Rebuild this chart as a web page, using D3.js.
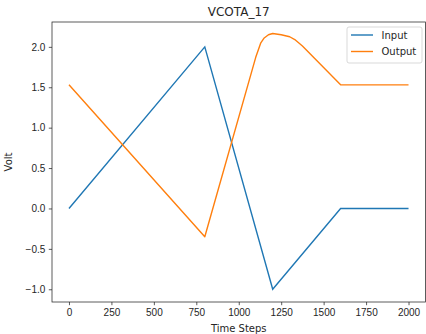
<!DOCTYPE html>
<html>
<head>
<meta charset="utf-8">
<script src="https://cdn.jsdelivr.net/npm/d3@7"></script>
<style>
  body { margin: 0; background: #fff; }
  svg { font-family: "DejaVu Sans", sans-serif; }
  .tick text { font-size: 10px; fill: #262626; }
</style>
</head>
<body>
<svg id="chart" width="426" height="334"></svg>
<script>
// input signal
var input_steps = [0, 800, 1200, 1600, 2000];
var input_volts = [0, 2.0, -1.0, 0, 0];
// output signal
var output_steps = [0, 800, 1100, 1130, 1150, 1175, 1200, 1250, 1300, 1330, 1375, 1600, 2000];
var output_volts = [1.53, -0.35, 1.87, 2.05, 2.11, 2.15, 2.165, 2.15, 2.125, 2.09, 2.01, 1.53, 1.53];
// ticks
var x_ticks = [0, 250, 500, 750, 1000, 1250, 1500, 1750, 2000];
var y_ticks = [-1.0, -0.5, 0.0, 0.5, 1.0, 1.5, 2.0];

// plot area edges
var plot_left = 52, plot_right = 425.5, plot_top = 22, plot_bottom = 302;
var svg = d3.select("#chart");

var x = d3.scaleLinear().domain([-100, 2100]).range([plot_left, plot_right]);
var y = d3.scaleLinear().domain([-1.1575, 2.3075]).range([plot_bottom, plot_top]);

// axes
var xAxis = svg.append("g")
    .attr("transform", "translate(0," + plot_bottom + ")")
    .call(d3.axisBottom(x).tickValues(x_ticks).tickSize(3.2).tickPadding(3.5).tickFormat(d3.format("d")));
var yAxis = svg.append("g")
    .attr("transform", "translate(" + plot_left + ",0)")
    .call(d3.axisLeft(y).tickValues(y_ticks).tickSize(3.2).tickPadding(3.5)
        .tickFormat(function(d) { return d3.format(".1f")(d).replace("-", "\u2212"); }));
[xAxis, yAxis].forEach(function(a) {
    a.select(".domain").remove();
    a.selectAll(".tick line").attr("stroke", "#262626").attr("stroke-width", 0.75);
});

// series lines
var line = d3.line().x(function(d) { return x(d[0]); }).y(function(d) { return y(d[1]); });
svg.append("path")
    .datum(d3.zip(input_steps, input_volts))
    .attr("d", line).attr("fill", "none")
    .attr("stroke", "#1f77b4").attr("stroke-width", 1.4);
svg.append("path")
    .datum(d3.zip(output_steps, output_volts))
    .attr("d", line).attr("fill", "none")
    .attr("stroke", "#ff7f0e").attr("stroke-width", 1.4).attr("stroke-linejoin", "round");

// frame
svg.append("rect")
    .attr("x", plot_left).attr("y", plot_top)
    .attr("width", plot_right - plot_left).attr("height", plot_bottom - plot_top)
    .attr("fill", "none").attr("stroke", "#262626").attr("stroke-width", 0.75);

// title and labels
svg.append("text").attr("x", (plot_left + plot_right) / 2).attr("y", 15.5)
    .attr("text-anchor", "middle").attr("font-size", 12).attr("fill", "#262626")
    .text("VCOTA_17");
svg.append("text").attr("x", (plot_left + plot_right) / 2).attr("y", 332)
    .attr("text-anchor", "middle").attr("font-size", 10).attr("fill", "#262626")
    .text("Time Steps");
svg.append("text")
    .attr("transform", "translate(11.5," + ((plot_top + plot_bottom) / 2) + ") rotate(-90)")
    .attr("text-anchor", "middle").attr("font-size", 10).attr("fill", "#262626")
    .text("Volt");

// legend
var legend = svg.append("g");
legend.append("rect")
    .attr("x", 347).attr("y", 27).attr("width", 75).attr("height", 36)
    .attr("rx", 2).attr("fill", "#fff").attr("fill-opacity", 0.8)
    .attr("stroke", "#cccccc").attr("stroke-width", 0.75);
var series = [["Input", "#1f77b4"], ["Output", "#ff7f0e"]];
series.forEach(function(s, i) {
    var ly = 35 + i * 16.5;
    legend.append("line")
        .attr("x1", 351).attr("x2", 373).attr("y1", ly).attr("y2", ly)
        .attr("stroke", s[1]).attr("stroke-width", 1.4);
    legend.append("text")
        .attr("x", 381.5).attr("y", ly + 3.6)
        .attr("font-size", 10).attr("fill", "#262626")
        .text(s[0]);
});
</script>
</body>
</html>
